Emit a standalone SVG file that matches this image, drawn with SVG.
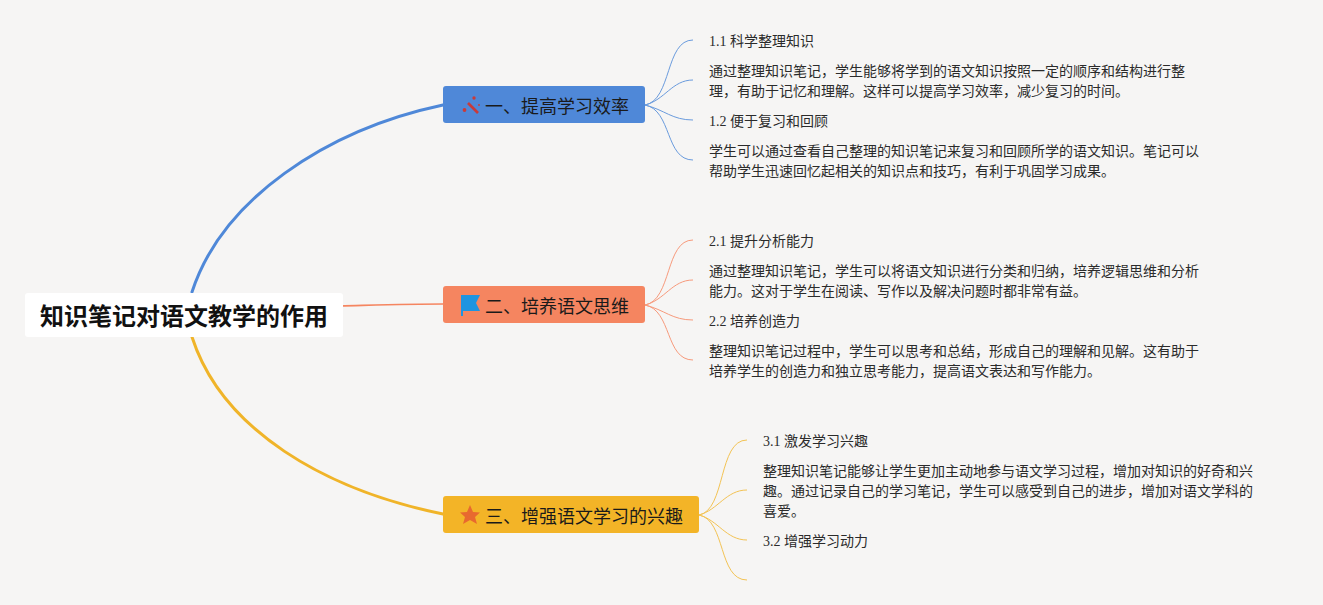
<svg xmlns="http://www.w3.org/2000/svg" width="1323" height="605" viewBox="0 0 1323 605">
<style>
.d{font-family:"Liberation Serif","Noto Sans CJK SC",serif;font-size:14px;fill:#2b2b2b}
.b{font-family:"Noto Sans CJK SC","Noto Sans",sans-serif;font-size:18px;fill:#1a1a1a}
.r{font-family:"Noto Sans CJK SC","Noto Sans",sans-serif;font-size:24px;font-weight:700;fill:#111}
.l{fill:none;stroke-width:1}
.m{fill:none;stroke-linecap:round}
</style>
<rect width="1323" height="605" fill="#f6f5f4"/>
<g id="connectors">
<path class="m" d="M192 292C222 200 325 130 443 105" stroke="#4f88d8" stroke-width="3"/>
<path class="m" d="M340 306C380 305 410 304 443 304" stroke="#f58560" stroke-width="1.6"/>
<path class="m" d="M192 337C222 430 325 490 443 514" stroke="#f0b429" stroke-width="3"/>
<g class="l" stroke="#6a9bdd"><path d="M645 105C672 100 665 40 693 40"/><path d="M645 105C665 100 672 80 693 80"/><path d="M645 105C665 110 672 120 693 120"/><path d="M645 105C672 110 665 160 693 160"/></g>
<g class="l" stroke="#f69a7c"><path d="M645 305C672 300 665 240 693 240"/><path d="M645 305C665 300 672 280 693 280"/><path d="M645 305C665 310 672 320 693 320"/><path d="M645 305C672 310 665 360 693 360"/></g>
<g class="l" stroke="#f3c354"><path d="M699 515C726 510 718 440 747 440"/><path d="M699 515C718 510 726 490 747 490"/><path d="M699 515C718 520 726 540 747 540"/><path d="M699 515C726 520 718 580 747 580"/></g>
</g>
<g id="root"><rect x="25" y="293" width="318" height="44" rx="3" fill="#fff"/><text class="r" x="184" y="325" text-anchor="middle">知识笔记对语文教学的作用</text></g>
<g id="b1"><rect x="443" y="86" width="202" height="37" rx="3" fill="#4f88d8"/>
<path d="M468 103L478 113" stroke="#c93a3a" stroke-width="2.6"/><circle cx="464.500" cy="110" r="1.900" fill="#c93a3a"/><circle cx="474" cy="98" r="1.700" fill="#c93a3a"/><circle cx="479" cy="105" r="0.900" fill="#c93a3a"/><text class="b" x="485" y="113">一、提高学习效率</text></g>
<g id="b2"><rect x="443" y="286" width="202" height="37" rx="3" fill="#f58560"/>
<path d="M461 295H480L476 303L480 311H463V316H461Z" fill="#1e94e0"/><text class="b" x="485" y="313">二、培养语文思维</text></g>
<g id="b3"><rect x="443" y="496" width="256" height="37" rx="3" fill="#f3b427"/>
<path d="M470 505L473 512L480 512.500L475 517L477 524L470 520L463 524L465 517L460 512.500L467 512Z" fill="#e8692f"/><text class="b" x="485" y="523">三、增强语文学习的兴趣</text></g>
<g id="t11"><text class="d" x="709" y="46">1.1 科学整理知识</text></g>
<g id="t12"><text class="d" x="709" y="76">通过整理知识笔记，学生能够将学到的语文知识按照一定的顺序和结构进行整</text><text class="d" x="709" y="96">理，有助于记忆和理解。这样可以提高学习效率，减少复习的时间。</text></g>
<g id="t13"><text class="d" x="709" y="126">1.2 便于复习和回顾</text></g>
<g id="t14"><text class="d" x="709" y="156">学生可以通过查看自己整理的知识笔记来复习和回顾所学的语文知识。笔记可以</text><text class="d" x="709" y="176">帮助学生迅速回忆起相关的知识点和技巧，有利于巩固学习成果。</text></g>
<g id="t21"><text class="d" x="709" y="246">2.1 提升分析能力</text></g>
<g id="t22"><text class="d" x="709" y="276">通过整理知识笔记，学生可以将语文知识进行分类和归纳，培养逻辑思维和分析</text><text class="d" x="709" y="296">能力。这对于学生在阅读、写作以及解决问题时都非常有益。</text></g>
<g id="t23"><text class="d" x="709" y="326">2.2 培养创造力</text></g>
<g id="t24"><text class="d" x="709" y="356">整理知识笔记过程中，学生可以思考和总结，形成自己的理解和见解。这有助于</text><text class="d" x="709" y="376">培养学生的创造力和独立思考能力，提高语文表达和写作能力。</text></g>
<g id="t31"><text class="d" x="763" y="446">3.1 激发学习兴趣</text></g>
<g id="t32"><text class="d" x="763" y="476">整理知识笔记能够让学生更加主动地参与语文学习过程，增加对知识的好奇和兴</text><text class="d" x="763" y="496">趣。通过记录自己的学习笔记，学生可以感受到自己的进步，增加对语文学科的</text><text class="d" x="763" y="516">喜爱。</text></g>
<g id="t33"><text class="d" x="763" y="546">3.2 增强学习动力</text></g>
</svg>
